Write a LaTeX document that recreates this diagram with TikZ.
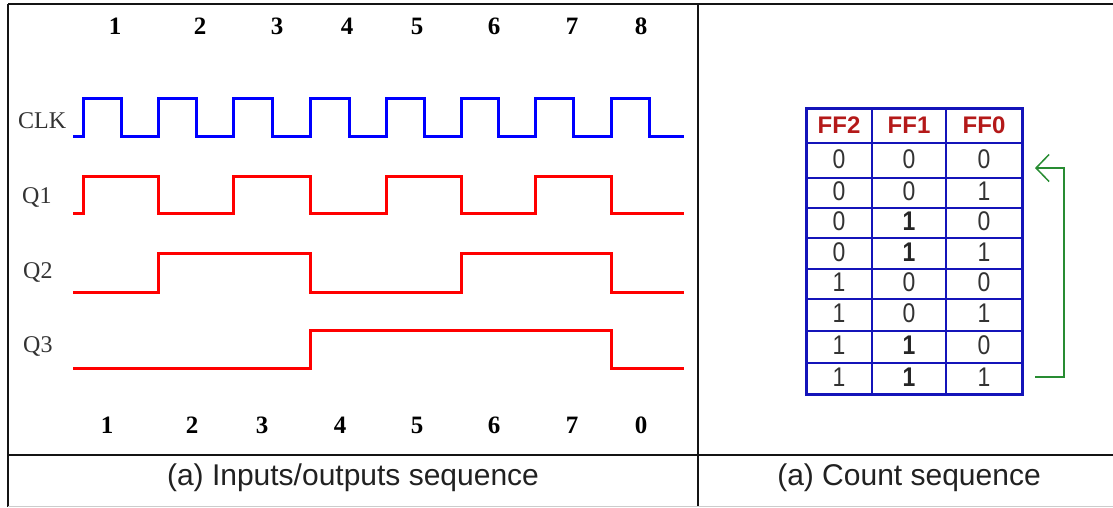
\documentclass[tikz,border=0pt]{standalone}
\usepackage{fontspec}
\setmainfont{Liberation Serif}
\newfontfamily\capfont{Liberation Sans}
\newfontfamily\digfont[FakeStretch=0.85]{Liberation Sans}
\usetikzlibrary{arrows.meta}

\definecolor{clkblue}{RGB}{0,0,255}
\definecolor{qred}{RGB}{255,0,0}
\definecolor{gridblue}{RGB}{20,20,185}
\definecolor{headred}{RGB}{180,25,25}
\definecolor{loopgreen}{RGB}{40,140,50}
\definecolor{framegray}{RGB}{20,20,20}

\tikzset{
  frameline/.style={draw=framegray, line width=2.5pt},
  clkwave/.style={draw=clkblue, line width=3pt},
  qwave/.style={draw=qred, line width=3pt},
  ticknum/.style={font=\fontsize{25}{30}\selectfont\bfseries, anchor=base, inner sep=0pt},
  siglabel/.style={font=\fontsize{24}{28}\selectfont, text=black!80, anchor=base west, inner sep=0pt},
  capline/.style={font=\capfont\fontsize{30}{36}\selectfont, text=black!87, anchor=base, inner sep=0pt},
  headcell/.style={font=\capfont\bfseries\fontsize{24}{28}\selectfont, text=headred, inner sep=0pt},
  bitcell/.style={font=\digfont\fontsize{27}{32}\selectfont, text=black!80, inner sep=0pt},
  bitbold/.style={font=\digfont\bfseries\fontsize{27}{32}\selectfont, text=black!85, inner sep=0pt},
  gridline/.style={draw=gridblue, line width=2pt},
  gridouter/.style={draw=gridblue, line width=3pt},
  looparrow/.style={draw=loopgreen, line width=1.5pt, -{Straight Barb[length=13pt,width=27pt]}}
}

\begin{document}
\begin{tikzpicture}[x=1pt,y=-1pt]
\useasboundingbox (0,0) rectangle (1113,507);

% frame of the two-panel layout
\draw[frameline] (8,4) -- (1113,4);
\draw[frameline] (8,4) -- (8,507);
\draw[frameline] (698,4) -- (698,507);
\draw[frameline] (8,455) -- (1113,455);
\draw[draw=black!20, line width=1pt] (8,506) -- (1113,506);

% clock pulse numbers (top)
\foreach \n/\x in {1/115,2/200,3/277,4/347,5/417,6/494,7/572,8/641}
  \node[ticknum] (top\n) at (\x,34) {\n};

% signal names
\node[siglabel] (lclk) at (18,128) {CLK};
\node[siglabel] (lq1) at (22,203) {Q1};
\node[siglabel] (lq2) at (23,278) {Q2};
\node[siglabel] (lq3) at (23,352) {Q3};

% clock waveform
\draw[clkwave] (73,136) -- (83,136) -- (83,98) -- (121,98) -- (121,136)
  -- (158,136) -- (158,98) -- (196,98) -- (196,136)
  -- (233,136) -- (233,98) -- (272,98) -- (272,136)
  -- (310,136) -- (310,98) -- (349,98) -- (349,136)
  -- (386,136) -- (386,98) -- (424,98) -- (424,136)
  -- (461,136) -- (461,98) -- (498,98) -- (498,136)
  -- (535,136) -- (535,98) -- (573,98) -- (573,136)
  -- (611,136) -- (611,98) -- (649,98) -- (649,136) -- (684,136);

% Q1
\draw[qwave] (73,213) -- (83,213) -- (83,176) -- (158,176) -- (158,213)
  -- (233,213) -- (233,176) -- (310,176) -- (310,213)
  -- (386,213) -- (386,176) -- (461,176) -- (461,213)
  -- (535,213) -- (535,176) -- (611,176) -- (611,213) -- (684,213);

% Q2
\draw[qwave] (73,292) -- (158,292) -- (158,253) -- (310,253) -- (310,292)
  -- (461,292) -- (461,253) -- (611,253) -- (611,292) -- (684,292);

% Q3
\draw[qwave] (73,368) -- (310,368) -- (310,330) -- (611,330) -- (611,368) -- (684,368);

% count values (bottom)
\foreach \n/\v/\x in {1/1/107,2/2/192,3/3/262,4/4/340,5/5/417,6/6/494,7/7/572,8/0/641}
  \node[ticknum] (bot\n) at (\x,433) {\v};

% captions
\node[capline] (capleft) at (353,485) {(a) Inputs/outputs sequence};
\node[capline] (capright) at (909,485) {(a) Count sequence};

% count table grid
\foreach \y in {178,208,238,269,299,331,363}
  \draw[gridline] (806,\y) -- (1022,\y);
\draw[gridblue, line width=2.6pt] (806,143) -- (1022,143);
\draw[gridline] (872,108) -- (872,394);
\draw[gridline] (946,108) -- (946,394);
\draw[gridouter] (806,108) rectangle (1022,394);

% table header
\node[headcell] (h2) at (839,125) {FF2};
\node[headcell] (h1) at (909,125) {FF1};
\node[headcell] (h0) at (984,125) {FF0};

% table body
\foreach \r/\y/\a/\b/\c in {1/159/0/0/0,2/191/0/0/1,3/221/0/1/0,4/252/0/1/1,
                            5/282/1/0/0,6/313/1/0/1,7/345/1/1/0,8/377/1/1/1}{
  \node[bitcell] (b\r2) at (839,\y) {\a};
  \ifnum\b=1
    \node[bitbold] (b\r1) at (909,\y) {\b};
  \else
    \node[bitcell] (b\r1) at (909,\y) {\b};
  \fi
  \node[bitcell] (b\r0) at (984,\y) {\c};
}

% wrap-around arrow from the last count back to the first
\coordinate (loopout) at (1035,377);
\coordinate (loopin) at (1035,168);
\draw[looparrow] (loopout) -- (1064,377) -- (1064,168) -- (loopin);
\end{tikzpicture}
\end{document}
